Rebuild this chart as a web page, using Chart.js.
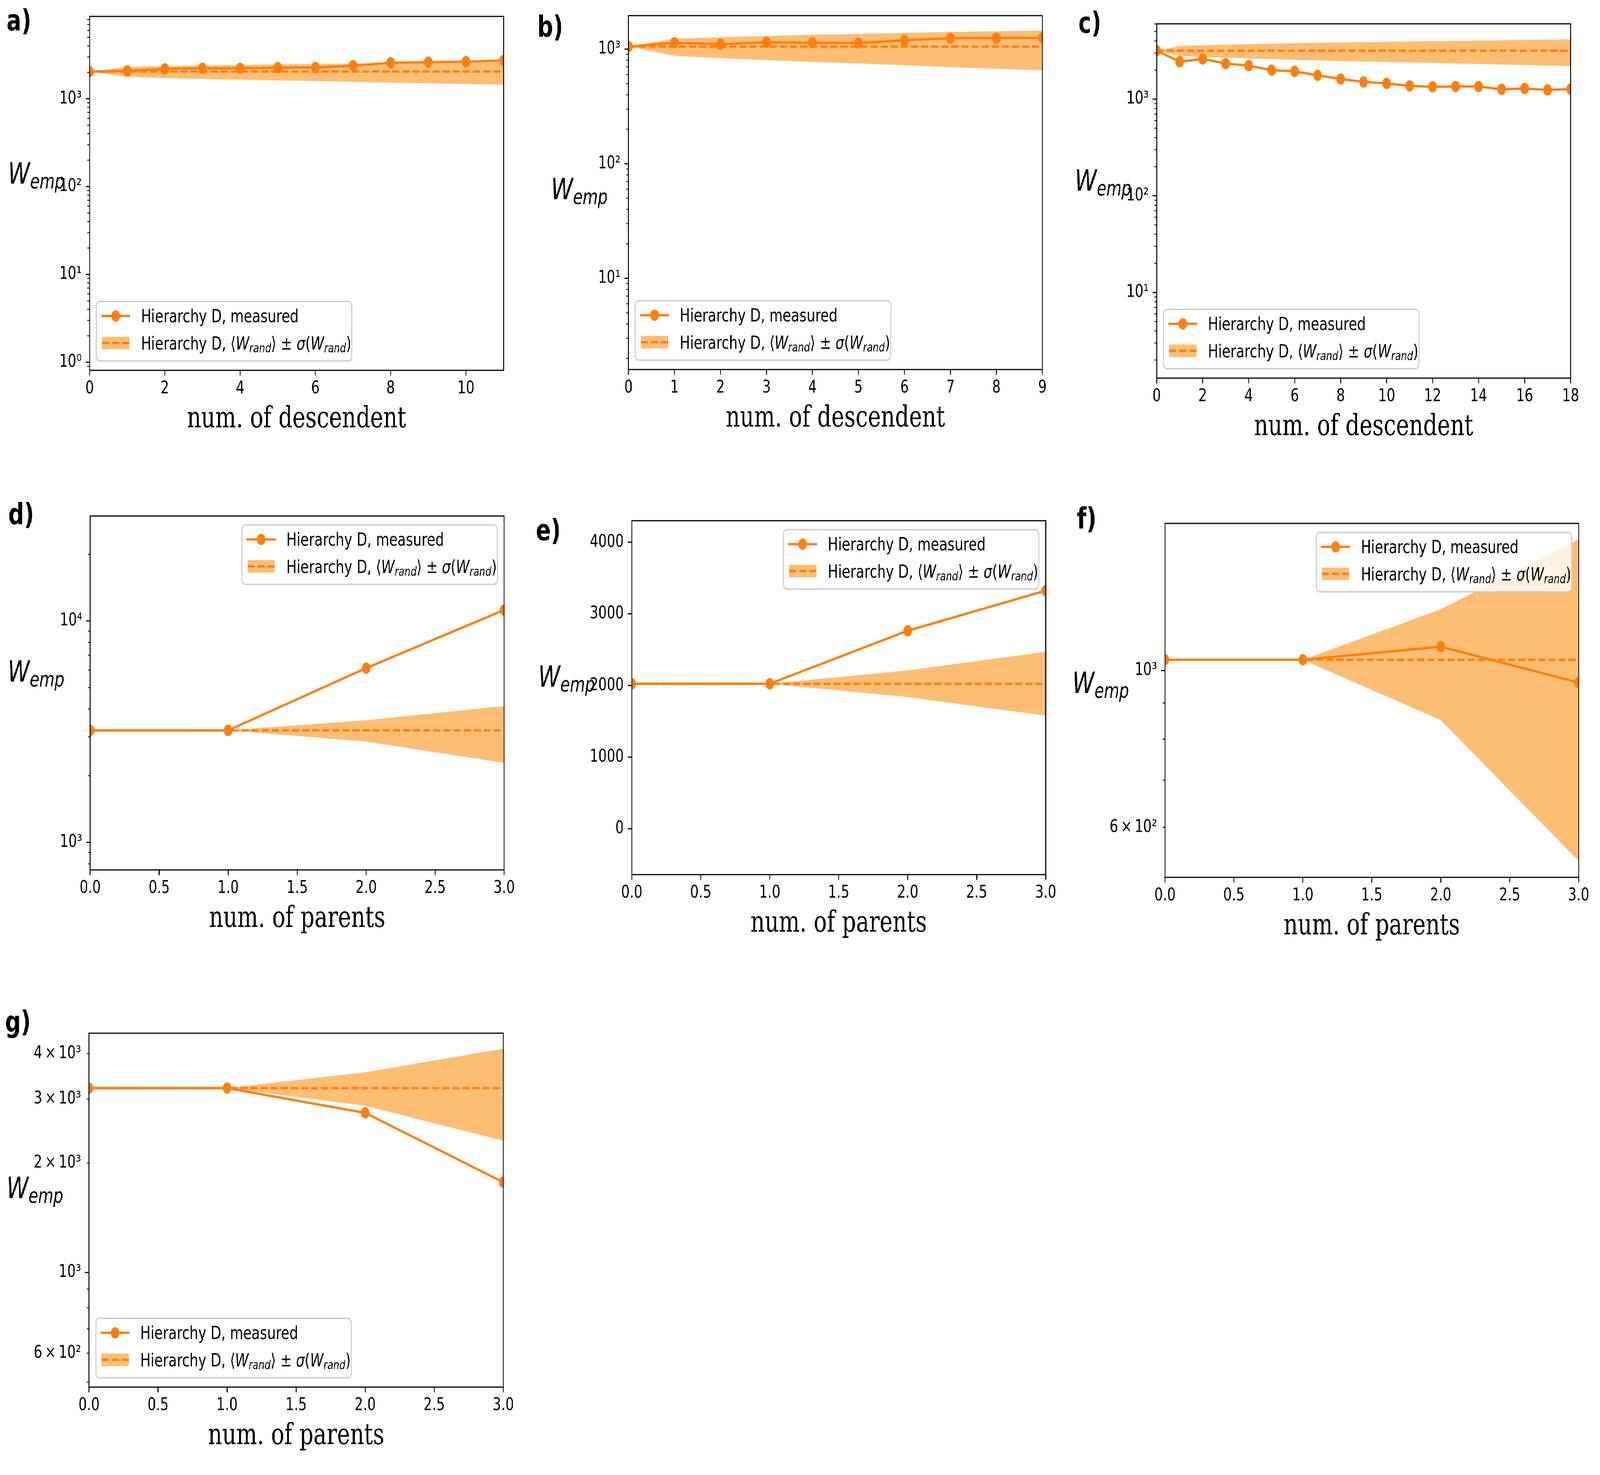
<!DOCTYPE html>
<html>
<head>
<meta charset="utf-8">
<title>W_emp panels</title>
<script src="https://cdn.jsdelivr.net/npm/chart.js@4"></script>
<style>
  html, body { margin: 0; padding: 0; background: #ffffff; overflow: hidden; }
  #page { position: absolute; left: 0; top: 0; width: 5392px; height: 3776px; background: #ffffff; transform-origin: 0 0; }
</style>
</head>
<body>
<div id="page"></div>
<script>
// ---------------- DATA ----------------
// a) num. of descendent
const xA = [0, 1, 2, 3, 4, 5, 6, 7, 8, 9, 10, 11];
const measA = [2040, 2085, 2195, 2225, 2225, 2265, 2265, 2380, 2570, 2610, 2650, 2730];
const meanA = [2040, 2040, 2040, 2040, 2040, 2040, 2040, 2040, 2040, 2040, 2040, 2040];
const sigA = [0, 260, 320, 355, 390, 420, 450, 480, 515, 540, 565, 590];

// b) num. of descendent
const xB = [0, 1, 2, 3, 4, 5, 6, 7, 8, 9];
const measB = [1053, 1137, 1103, 1148, 1137, 1129, 1195, 1245, 1245, 1252];
const meanB = [1053, 1053, 1053, 1053, 1053, 1053, 1053, 1053, 1053, 1053];
const sigB = [0, 178, 220, 251, 280, 304, 330, 358, 380, 400];

// c) num. of descendent
const xC = [0, 1, 2, 3, 4, 5, 6, 7, 8, 9, 10, 11, 12, 13, 14, 15, 16, 17, 18];
const measC = [3170, 2445, 2600, 2333, 2222, 1993, 1940, 1763, 1614, 1506, 1456, 1370, 1342, 1351, 1351, 1262, 1288, 1245, 1270];
const meanC = [3170, 3170, 3170, 3170, 3170, 3170, 3170, 3170, 3170, 3170, 3170, 3170, 3170, 3170, 3170, 3170, 3170, 3170, 3170];
const sigC = [0, 375, 440, 490, 530, 580, 620, 660, 690, 720, 750, 780, 800, 830, 860, 890, 920, 950, 980];

// d) - g) num. of parents
const xP = [0, 1, 2, 3];
const measD = [3205, 3205, 6120, 11200];
const meanD = [3205, 3205, 3205, 3205];
const sigD = [0, 0, 355, 920];

const measE = [2024, 2024, 2764, 3324];
const meanE = [2024, 2024, 2024, 2024];
const sigE = [0, 0, 186, 445];

const measF = [1036, 1036, 1081, 962];
const meanF = [1036, 1036, 1036, 1036];
const sigF = [0, 0, 185, 498];

const measG = [3214, 3214, 2747, 1771];
const meanG = [3214, 3214, 3214, 3214];
const sigG = [0, 0, 340, 910];

// tick labels
const xTicksA = [0, 2, 4, 6, 8, 10];
const xTickLabA = ['0', '2', '4', '6', '8', '10'];
const xTicksB = [0, 1, 2, 3, 4, 5, 6, 7, 8, 9];
const xTickLabB = ['0', '1', '2', '3', '4', '5', '6', '7', '8', '9'];
const xTicksC = [0, 2, 4, 6, 8, 10, 12, 14, 16, 18];
const xTickLabC = ['0', '2', '4', '6', '8', '10', '12', '14', '16', '18'];
const xTicksP = [0, 0.5, 1, 1.5, 2, 2.5, 3];
const xTickLabP = ['0.0', '0.5', '1.0', '1.5', '2.0', '2.5', '3.0'];

const yLabValsA = [1, 10, 100, 1000];
const yLabTxtA = ['10\u2070', '10\u00B9', '10\u00B2', '10\u00B3'];
const yLabValsB = [10, 100, 1000];
const yLabTxtB = ['10\u00B9', '10\u00B2', '10\u00B3'];
const yLabValsC = [10, 100, 1000];
const yLabTxtC = ['10\u00B9', '10\u00B2', '10\u00B3'];
const yLabValsD = [1000, 10000];
const yLabTxtD = ['10\u00B3', '10\u2074'];
const yTicksE = [0, 1000, 2000, 3000, 4000];
const yLabValsE = [0, 1000, 2000, 3000, 4000];
const yLabTxtE = ['0', '1000', '2000', '3000', '4000'];
const yLabValsF = [600, 1000];
const yLabTxtF = ['6\u2009\u00D7\u200910\u00B2', '10\u00B3'];
const yLabValsG = [600, 1000, 2000, 3000, 4000];
const yLabTxtG = ['6\u2009\u00D7\u200910\u00B2', '10\u00B3', '2\u2009\u00D7\u200910\u00B3', '3\u2009\u00D7\u200910\u00B3', '4\u2009\u00D7\u200910\u00B3'];

// ---------------- STYLE ----------------
const C1 = '#ff7f0e';
const BAND = 'rgb(253,190,116)';
const PAGE_W = 5392, PAGE_H = 3776;
const SANS = "'DejaVu Sans'";
const SERIF = "'DejaVu Serif'";
const TICK_FONT = 45;
const LEG_FONT = 46;

// the browser viewport can be smaller than the requested 5392x3776: map the page onto it
const page = document.getElementById('page');
const sx = (window.innerWidth || PAGE_W) / PAGE_W;
const sy = (window.innerHeight || PAGE_H) / PAGE_H;
page.style.transform = 'scale(' + sx + ',' + sy + ')';

const panels = [
  { L: 302, T: 42, R: 1697, B: 948, letter: 'a)', lx: 22, ly: 78, wx: 27, wy: 470,
    xs: xA, meas: measA, mean: meanA, sig: sigA, yType: 'logarithmic', yMin: 0.81, yMax: 8670,
    xMin: 0, xMax: 11, xTicks: xTicksA, xLabs: xTickLabA, yLabVals: yLabValsA, yLabTxt: yLabTxtA,
    xTitle: 'num. of descendent', legend: 'll' },
  { L: 2118, T: 40, R: 3513, B: 946, letter: 'b)', lx: 1811, ly: 94, wx: 1857, wy: 510,
    xs: xB, meas: measB, mean: meanB, sig: sigB, yType: 'logarithmic', yMin: 1.6, yMax: 1960,
    xMin: 0, xMax: 9, xTicks: xTicksB, xLabs: xTickLabB, yLabVals: yLabValsB, yLabTxt: yLabTxtB,
    xTitle: 'num. of descendent', legend: 'll' },
  { L: 3898, T: 61, R: 5293, B: 968, letter: 'c)', lx: 3634, ly: 84, wx: 3622, wy: 488,
    xs: xC, meas: measC, mean: meanC, sig: sigC, yType: 'logarithmic', yMin: 1.3, yMax: 6010,
    xMin: 0, xMax: 18, xTicks: xTicksC, xLabs: xTickLabC, yLabVals: yLabValsC, yLabTxt: yLabTxtC,
    xTitle: 'num. of descendent', legend: 'll' },
  { L: 304, T: 1321, R: 1699, B: 2227, letter: 'd)', lx: 28, ly: 1342, wx: 26, wy: 1745,
    xs: xP, meas: measD, mean: meanD, sig: sigD, yType: 'logarithmic', yMin: 751, yMax: 29760,
    xMin: 0, xMax: 3, xTicks: xTicksP, xLabs: xTickLabP, yLabVals: yLabValsD, yLabTxt: yLabTxtD,
    xTitle: 'num. of parents', legend: 'ur' },
  { L: 2129, T: 1333, R: 3524, B: 2239, letter: 'e)', lx: 1806, ly: 1383, wx: 1814, wy: 1758,
    xs: xP, meas: measE, mean: meanE, sig: sigE, yType: 'linear', yMin: -640, yMax: 4300, yTicks: yTicksE,
    xMin: 0, xMax: 3, xTicks: xTicksP, xLabs: xTickLabP, yLabVals: yLabValsE, yLabTxt: yLabTxtE,
    xTitle: 'num. of parents', legend: 'ur' },
  { L: 3926, T: 1340, R: 5320, B: 2246, letter: 'f)', lx: 3629, ly: 1353, wx: 3614, wy: 1774,
    xs: xP, meas: measF, mean: meanF, sig: sigF, yType: 'logarithmic', yMin: 510, yMax: 1615,
    xMin: 0, xMax: 3, xTicks: xTicksP, xLabs: xTickLabP, yLabVals: yLabValsF, yLabTxt: yLabTxtF,
    xTitle: 'num. of parents', legend: 'ur' },
  { L: 300, T: 2645, R: 1696, B: 3551, letter: 'g)', lx: 17, ly: 2641, wx: 22, wy: 3067,
    xs: xP, meas: measG, mean: meanG, sig: sigG, yType: 'logarithmic', yMin: 484, yMax: 4550,
    xMin: 0, xMax: 3, xTicks: xTicksP, xLabs: xTickLabP, yLabVals: yLabValsG, yLabTxt: yLabTxtG,
    xTitle: 'num. of parents', legend: 'll' }
];

// ---------------- HELPERS ----------------
function logTickVals(min, max) {
  const out = [];
  for (let e = Math.floor(Math.log10(min)); e <= Math.ceil(Math.log10(max)); e++) {
    for (let m = 1; m <= 9; m++) {
      const v = +(m * Math.pow(10, e)).toPrecision(6);
      if (v >= min && v <= max) out.push(v);
    }
  }
  return out;
}

function drawRich(ctx, x, y, segs, size) {
  let cx = x;
  ctx.textAlign = 'left';
  ctx.textBaseline = 'alphabetic';
  ctx.fillStyle = '#000';
  for (const s of segs) {
    const fs = s.sub ? size * 0.7 : size;
    ctx.font = (s.it ? 'italic ' : '') + fs + 'px ' + SANS;
    ctx.fillText(s.t, cx, y + (s.sub ? size * 0.16 : 0));
    cx += ctx.measureText(s.t).width;
  }
  return cx - x;
}

function roundRectPath(ctx, x, y, w, h, r) {
  ctx.beginPath();
  ctx.moveTo(x + r, y);
  ctx.lineTo(x + w - r, y);
  ctx.arcTo(x + w, y, x + w, y + r, r);
  ctx.lineTo(x + w, y + h - r);
  ctx.arcTo(x + w, y + h, x + w - r, y + h, r);
  ctx.lineTo(x + r, y + h);
  ctx.arcTo(x, y + h, x, y + h - r, r);
  ctx.lineTo(x, y + r);
  ctx.arcTo(x, y, x + r, y, r);
  ctx.closePath();
}

const LEG_ROW1 = 'Hierarchy D, measured';
const LEG_ROW2 = [
  { t: 'Hierarchy D, ' }, { t: '\u27E8' }, { t: 'W', it: true }, { t: 'rand', it: true, sub: true },
  { t: '\u27E9' }, { t: ' \u00B1 ' }, { t: '\u03C3', it: true }, { t: '(' },
  { t: 'W', it: true }, { t: 'rand', it: true, sub: true }, { t: ')' }
];

function drawLegend(ctx, area, where) {
  const w = 861, h = 152;
  const x = where === 'ur' ? area.right - 23 - w : area.left + 23;
  const y = where === 'ur' ? area.top + 23 : area.bottom - 24 - h;
  ctx.save();
  roundRectPath(ctx, x, y, w, h, 12);
  ctx.fillStyle = 'rgba(255,255,255,0.8)';
  ctx.fill();
  ctx.lineWidth = 3.5;
  ctx.strokeStyle = '#cccccc';
  ctx.stroke();
  const r1 = y + 37, r2 = y + 106;
  ctx.strokeStyle = C1;
  ctx.lineWidth = 6;
  ctx.setLineDash([]);
  ctx.beginPath(); ctx.moveTo(x + 16, r1); ctx.lineTo(x + 114, r1); ctx.stroke();
  ctx.fillStyle = C1;
  ctx.beginPath(); ctx.arc(x + 65, r1, 14.5, 0, Math.PI * 2); ctx.fill();
  ctx.fillStyle = '#000';
  ctx.font = LEG_FONT + 'px ' + SANS;
  ctx.textAlign = 'left'; ctx.textBaseline = 'alphabetic';
  ctx.fillText(LEG_ROW1, x + 150, r1 + 16);
  ctx.fillStyle = BAND;
  ctx.fillRect(x + 19, r2 - 16, 92, 32);
  ctx.strokeStyle = C1;
  ctx.lineWidth = 6;
  ctx.setLineDash([24, 10]);
  ctx.beginPath(); ctx.moveTo(x + 19, r2); ctx.lineTo(x + 111, r2); ctx.stroke();
  ctx.setLineDash([]);
  drawRich(ctx, x + 150, r2 + 17, LEG_ROW2, LEG_FONT);
  ctx.restore();
}

function buildPanel(p, idx) {
  const cL = Math.max(0, p.L - 340), cT = Math.max(0, p.T - 90);
  const cR = Math.min(PAGE_W, p.R + 80), cB = p.B + 200;
  const W = cR - cL, H = cB - cT;
  const cv = document.createElement('canvas');
  cv.width = W; cv.height = H;
  cv.style.position = 'absolute';
  cv.style.left = cL + 'px';
  cv.style.top = cT + 'px';
  cv.style.width = W + 'px';
  cv.style.height = H + 'px';
  page.appendChild(cv);

  const isLog = p.yType === 'logarithmic';
  const yTickVals = isLog ? logTickVals(p.yMin, p.yMax) : p.yTicks;
  const isMajorY = v => !isLog || Math.abs(Math.log10(v) - Math.round(Math.log10(v))) < 1e-9;
  const yLabel = v => {
    for (let i = 0; i < p.yLabVals.length; i++) {
      if (Math.abs(p.yLabVals[i] - v) <= 1e-6 * Math.max(1, Math.abs(v))) return p.yLabTxt[i];
    }
    return '';
  };
  const pts = arr => p.xs.map((x, i) => ({ x: x, y: arr[i] }));
  const upper = p.mean.map((m, i) => m + p.sig[i]);
  const lower = p.mean.map((m, i) => m - p.sig[i]);

  const decor = {
    id: 'decor' + idx,
    afterDatasetsDraw(chart) {
      const ctx = chart.ctx, a = chart.chartArea;
      const ys = chart.scales.y, xs = chart.scales.x;
      ctx.save();
      ctx.strokeStyle = '#000';
      ctx.setLineDash([]);
      for (const t of ys.ticks) {
        const py = ys.getPixelForValue(t.value);
        const maj = isMajorY(t.value);
        ctx.lineWidth = maj ? 3 : 2.3;
        ctx.beginPath();
        ctx.moveTo(a.left - (maj ? 13.4 : 7.7), py);
        ctx.lineTo(a.left, py);
        ctx.stroke();
      }
      for (const t of xs.ticks) {
        const px = xs.getPixelForValue(t.value);
        ctx.lineWidth = 3;
        ctx.beginPath();
        ctx.moveTo(px, a.bottom);
        ctx.lineTo(px, a.bottom + 13.4);
        ctx.stroke();
      }
      ctx.lineWidth = 3;
      ctx.strokeRect(a.left, a.top, a.right - a.left, a.bottom - a.top);
      ctx.restore();
    },
    afterDraw(chart) {
      const ctx = chart.ctx, a = chart.chartArea;
      ctx.save();
      drawLegend(ctx, a, p.legend);
      ctx.fillStyle = '#000';
      ctx.textAlign = 'left'; ctx.textBaseline = 'alphabetic';
      ctx.font = 'bold 74px ' + SANS;
      ctx.fillText(p.letter, p.lx - cL, p.ly - cT);
      drawRich(ctx, p.wx - cL, p.wy - cT, [{ t: 'W', it: true }, { t: 'emp', it: true, sub: true }], 75);
      ctx.fillStyle = '#000';
      ctx.font = '74px ' + SERIF;
      ctx.textAlign = 'center'; ctx.textBaseline = 'alphabetic';
      ctx.fillText(p.xTitle, (a.left + a.right) / 2, a.bottom + 146);
      ctx.restore();
    }
  };

  new Chart(cv, {
    type: 'line',
    data: {
      datasets: [
        { label: 'Hierarchy D, measured', data: pts(p.meas), borderColor: C1, backgroundColor: C1,
          borderWidth: 6, pointRadius: 14.5, pointHoverRadius: 14.5, pointBackgroundColor: C1,
          pointBorderWidth: 0, pointBorderColor: C1, tension: 0, fill: false, order: 0,
          borderJoinStyle: 'round', borderCapStyle: 'butt' },
        { label: 'Hierarchy D, <W_rand>', data: pts(p.mean), borderColor: C1, borderWidth: 6,
          borderDash: [24, 10], pointRadius: 0, pointHoverRadius: 0, tension: 0, fill: false, order: 1 },
        { label: 'upper', data: pts(upper), borderColor: 'rgba(0,0,0,0)', borderWidth: 1,
          backgroundColor: BAND, pointRadius: 0, pointHoverRadius: 0, tension: 0, fill: '+1', order: 2 },
        { label: 'lower', data: pts(lower), borderColor: 'rgba(0,0,0,0)', borderWidth: 1,
          pointRadius: 0, pointHoverRadius: 0, tension: 0, fill: false, order: 3 }
      ]
    },
    options: {
      responsive: false,
      maintainAspectRatio: false,
      animation: false,
      devicePixelRatio: 1,
      events: [],
      layout: { autoPadding: false, padding: { left: p.L - cL - 200, top: p.T - cT, right: cR - p.R, bottom: 0 } },
      plugins: { legend: { display: false }, tooltip: { enabled: false }, title: { display: false } },
      scales: {
        x: {
          type: 'linear', min: p.xMin, max: p.xMax, bounds: 'data',
          grid: { display: true, drawOnChartArea: false, drawTicks: true, tickLength: 13.4, tickColor: 'rgba(0,0,0,0)' },
          border: { display: false },
          ticks: { autoSkip: false, maxRotation: 0, minRotation: 0, padding: 7, color: '#000',
                   font: { family: 'DejaVu Sans', size: TICK_FONT },
                   callback: (v, i) => (p.xLabs[i] !== undefined ? p.xLabs[i] : '') },
          afterBuildTicks: s => { s.ticks = p.xTicks.map(v => ({ value: v })); },
          afterFit: s => { s.height = 200; s.paddingLeft = 0; s.paddingRight = 0; }
        },
        y: {
          type: p.yType, min: p.yMin, max: p.yMax, bounds: 'data',
          grid: { display: true, drawOnChartArea: false, drawTicks: true, tickLength: 13.4, tickColor: 'rgba(0,0,0,0)' },
          border: { display: false },
          ticks: { autoSkip: false, padding: 13.4, color: '#000',
                   font: { family: 'DejaVu Sans', size: TICK_FONT },
                   callback: v => yLabel(v) },
          afterBuildTicks: s => { s.ticks = yTickVals.map(v => ({ value: v, major: isMajorY(v) })); },
          afterFit: s => { s.width = 200; s.paddingTop = 0; s.paddingBottom = 0; }
        }
      }
    },
    plugins: [decor]
  });
}

panels.forEach(buildPanel);
</script>
</body>
</html>
